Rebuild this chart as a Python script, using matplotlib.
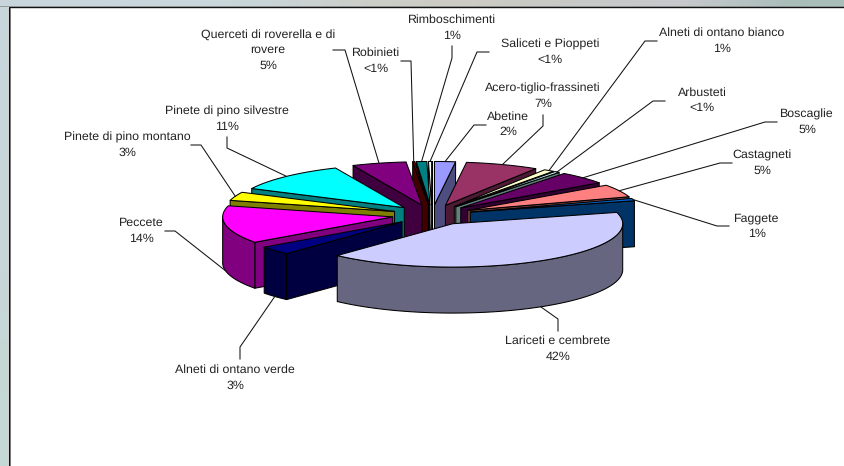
#!/usr/bin/env python3
# -*- coding: utf-8 -*-
"""Exploded 3D-look pie of forest types, drawn with flat polygons."""

from __future__ import annotations

import matplotlib

matplotlib.use("Agg")

import matplotlib.pyplot as plt
import numpy as np
from matplotlib.colors import to_rgb
from matplotlib.patches import Polygon, Rectangle

plt.rcParams["font.family"] = ["Liberation Sans", "DejaVu Sans"]
plt.rcParams["text.hinting"] = "none"

# data, clockwise from 12 o'clock
CATEGORIES = [
    "Abetine",
    "Acero-tiglio-frassineti",
    "Alneti di ontano bianco",
    "Arbusteti",
    "Boscaglie",
    "Castagneti",
    "Faggete",
    "Lariceti e cembrete",
    "Alneti di ontano verde",
    "Peccete",
    "Pinete di pino montano",
    "Pinete di pino silvestre",
    "Querceti di roverella e di\nrovere",
    "Robinieti",
    "Rimboschimenti",
    "Saliceti e Pioppeti",
]
VALUES = [2, 7, 1, 0.5, 4.8, 4.8, 0.9, 41.5, 3.2, 14.2, 3.2, 11.2, 5.2, 0.2, 1, 0.3]
PERCENT_LABELS = ["2%", "7%", "1%", "<1%", "5%", "5%", "1%", "42%", "3%", "14%", "3%", "11%", "5%", "<1%", "1%", "<1%"]

TOP_COLORS = [
    "#9999FF", "#993366", "#FFFFCC", "#CCFFFF", "#660066", "#FF8080", "#0066CC", "#CCCCFF",
    "#000080", "#FF00FF", "#FFFF00", "#00FFFF", "#800080", "#800000", "#008080", "#FFFFFF",
]
SIDE_COLORS = [
    "#4D4D80", "#4D1A33", "#80805F", "#668080", "#330033", "#804040", "#003366", "#666680",
    "#000040", "#800080", "#808000", "#008080", "#400040", "#400000", "#400000", "#FFFFFF",
]

# label block centre, then the two leader points next to it (pixels)
LABEL_POS = [
    (508, 124.5), (543, 96), (722, 41), (702, 100.5), (807, 122), (762, 163), (757, 226), (558, 349),
    (235, 377.5), (141, 231), (127, 145), (227, 119), (268, 50), (376, 61), (452.5, 28), (550, 52),
]
LEADER_START = [
    (486, 125), (543, 115), (657, 41), (665, 101), (777, 122), (732, 163), (729, 226), (558, 331),
    (240, 359), (165, 231), (191, 145), (227, 137), (333, 50), (401, 61), (452, 46), (489, 52),
]
LEADER_ELBOW = [
    (474, 125), (543, 126), (645, 41), (653, 101), (765, 122), (720, 163), (717, 226), (558, 319),
    (240, 347), (175, 231), (201, 145), (227, 148), (345, 50), (411, 61), (452, 58), (477, 52),
]

WIDTH, HEIGHT = 845, 466
CENTER = (432.0, 215.0)
RADIUS = 170.0
EXPLODE = 40.0
TILT = 0.255
DEPTH = 46.0
EDGE = "#000000"
LINEWIDTH = 0.75


def slice_angles(values: list[float]) -> tuple[np.ndarray, np.ndarray]:
    # angles clockwise from north, in radians
    total = np.sum(values)
    ends = np.cumsum(values) / total * 2 * np.pi
    return ends - np.asarray(values) / total * 2 * np.pi, ends


def project(theta, radius: float, offset: tuple[float, float]) -> np.ndarray:
    theta = np.atleast_1d(theta)
    x = offset[0] + radius * np.sin(theta)
    y = offset[1] - TILT * radius * np.cos(theta)
    return np.column_stack([x, y])


def draw_face(ax, points: np.ndarray, color: str) -> None:
    # in pixel space an outline edge going left faces the viewer
    visible = np.diff(points[:, 0]) < 0
    i = 0
    while i < len(visible):
        if not visible[i]:
            i += 1
            continue
        j = i
        while j < len(visible) and visible[j]:
            j += 1
        run = points[i : j + 1]
        poly = np.vstack([run, run[::-1] + [0, DEPTH]])
        ax.add_patch(Polygon(poly, closed=True, facecolor=color, edgecolor=EDGE, linewidth=LINEWIDTH, joinstyle="round"))
        i = j


def draw_slice(ax, start: float, end: float, top: str, side: str) -> None:
    mid = (start + end) / 2
    apex = project(mid, EXPLODE, CENTER)[0]
    arc = project(np.linspace(start, end, max(int((end - start) * 40), 4)), RADIUS, apex)
    first = np.vstack([apex, arc[0]])
    last = np.vstack([arc[-1], apex])
    draw_face(ax, first, side)
    draw_face(ax, last, side)
    draw_face(ax, arc, side)
    ax.add_patch(Polygon(np.vstack([apex, arc]), closed=True, facecolor=top, edgecolor=EDGE, linewidth=LINEWIDTH, joinstyle="round"))


def leader_end(start: float, end: float) -> np.ndarray:
    mid = (start + end) / 2
    point = project(mid, EXPLODE + RADIUS, CENTER)[0]
    if np.cos(mid) < 0:
        point = point + [0, DEPTH]
    return point


def draw_background(ax) -> None:
    top_row = ["#C8D6DC", "#C8D6DC", "#C9D5D8", "#CCCEC8", "#CCCCC4", "#C8C8C8", "#C6C9CC", "#A9BDB9"]
    grad = np.array([[to_rgb(c) for c in top_row]] * 2)
    ax.imshow(grad, extent=(0, WIDTH, 8, 0), aspect="auto", interpolation="bilinear", zorder=0)
    left_col = ["#C8D6DC", "#C8D6DA", "#C4D8D4"]
    strip = np.array([[to_rgb(c)] for c in left_col])
    ax.imshow(strip, extent=(0, 8.5, HEIGHT, 6), aspect="auto", interpolation="bilinear", zorder=0.5)
    ax.add_patch(Rectangle((8.5, 7), WIDTH, HEIGHT, facecolor="white", edgecolor="none", zorder=1))
    ax.plot([9, 9, WIDTH], [HEIGHT, 7, 7], color="#111111", lw=1.0, zorder=1.5, solid_joinstyle="miter")
    ax.plot([10, 10], [HEIGHT, 8], color="#777777", lw=0.7, zorder=1.5)
    ax.plot([0, WIDTH], [6, 6], color="#8A9090", lw=0.6, zorder=1.5)
    ax.set_xlim(0, WIDTH)
    ax.set_ylim(HEIGHT, 0)


def main() -> None:
    fig = plt.figure(figsize=(WIDTH / 100, HEIGHT / 100), dpi=100)
    ax = fig.add_axes([0, 0, 1, 1])
    ax.axis("off")
    draw_background(ax)

    starts, ends = slice_angles(VALUES)
    mids = (starts + ends) / 2
    # back slices first: those pointing north sit furthest away
    for idx in np.argsort(-np.cos(mids)):
        draw_slice(ax, starts[idx], ends[idx], TOP_COLORS[idx], SIDE_COLORS[idx])

    for idx, name in enumerate(CATEGORIES):
        tip = leader_end(starts[idx], ends[idx])
        xs = [LEADER_START[idx][0], LEADER_ELBOW[idx][0], tip[0]]
        ys = [LEADER_START[idx][1], LEADER_ELBOW[idx][1], tip[1]]
        ax.plot(xs, ys, color="#111111", lw=0.75, zorder=20)
        ax.text(
            LABEL_POS[idx][0],
            LABEL_POS[idx][1],
            f"{name}\n{PERCENT_LABELS[idx]}",
            ha="center",
            va="center",
            fontsize=8.9,
            color="#222222",
            linespacing=1.5,
            zorder=21,
        )

    fig.savefig("out.png", dpi=100)
    plt.close(fig)


if __name__ == "__main__":
    main()
